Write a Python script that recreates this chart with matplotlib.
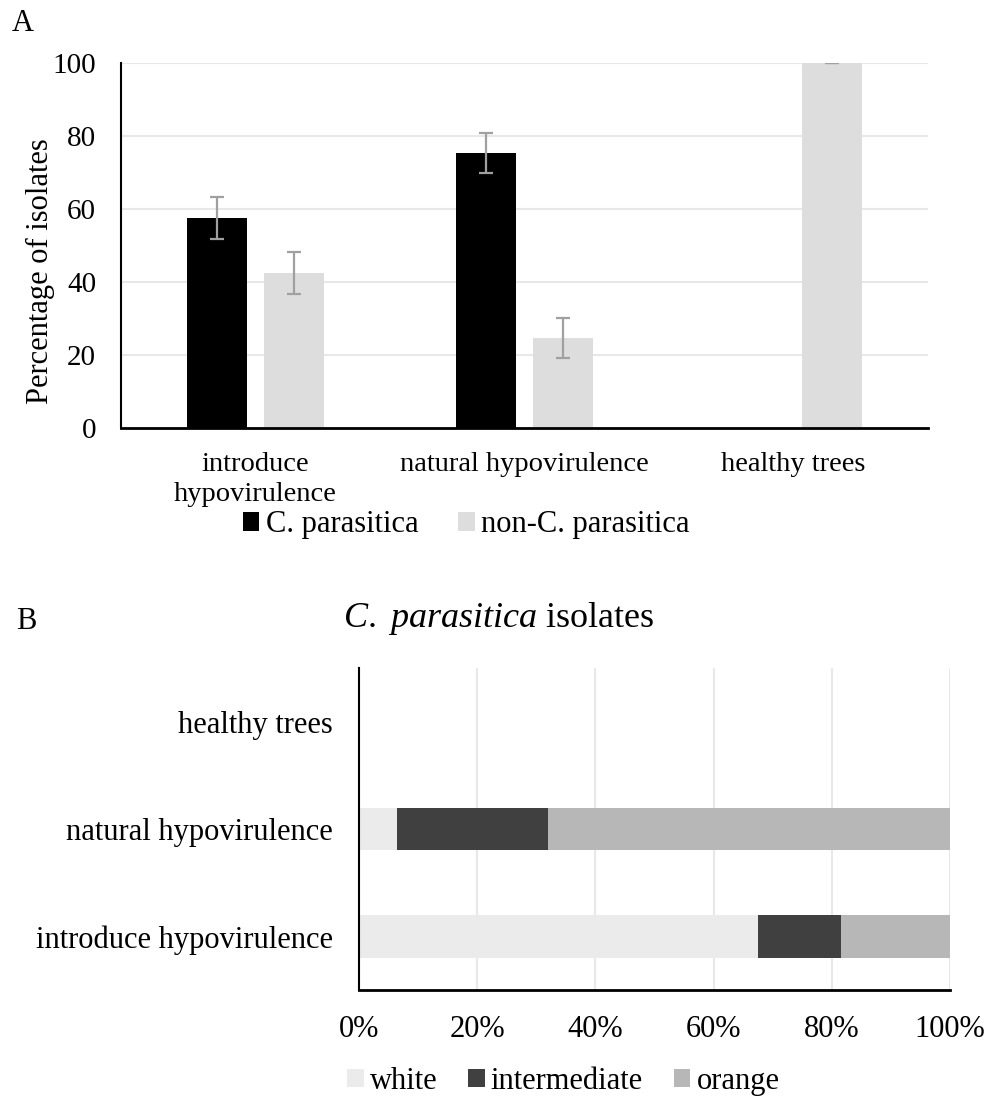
import matplotlib
matplotlib.use('Agg')
from matplotlib import pyplot as plt
import numpy as np

plt.rcParams['font.family'] = ['Liberation Serif', 'DejaVu Serif']
plt.rcParams['mathtext.fontset'] = 'custom'
plt.rcParams['mathtext.rm'] = 'Liberation Serif'
plt.rcParams['mathtext.it'] = 'Liberation Serif:italic'

# panel A data
groups_a = ['introduce\nhypovirulence', 'natural hypovirulence', 'healthy trees']
cpar = [57.5, 75.3, 0]
cpar_err = [5.7, 5.4, 0]
noncpar = [42.5, 24.7, 100]
noncpar_err = [5.8, 5.4, 0]

# panel B data (percent of C. parasitica isolates)
groups_b = ['introduce hypovirulence', 'natural hypovirulence', 'healthy trees']
white = [67.5, 6.5, 0]
intermediate = [14.0, 25.5, 0]
orange = [18.5, 68.0, 0]

fig = plt.figure(figsize=(10.02, 10.98), dpi=100)

# ---- panel A
ax1 = fig.add_axes([0.1208, 0.6102, 0.8053, 0.3324])
x = np.arange(len(groups_a))
w = 0.223
off = 0.143
ax1.bar(x - off, cpar, w, color='black', label='C. parasitica', zorder=2)
ax1.bar(x + off, noncpar, w, color='#dddddd', label='non-C. parasitica', zorder=2)
ax1.errorbar(x[:2] - off, cpar[:2], yerr=cpar_err[:2], fmt='none', ecolor='#a0a0a0',
             elinewidth=1.6, capsize=5, capthick=1.6, zorder=3)
ax1.errorbar(x + off, noncpar, yerr=noncpar_err, fmt='none', ecolor='#a0a0a0',
             elinewidth=1.6, capsize=5, capthick=1.6, zorder=3)
ax1.set_xlim(-0.5, 2.5)
ax1.set_ylim(0, 100)
ax1.set_yticks([0, 20, 40, 60, 80, 100])
ax1.set_xticks(x)
ax1.set_xticklabels(groups_a, fontsize=20.5, linespacing=1.3)
ax1.tick_params(axis='y', length=0, pad=18, labelsize=21)
ax1.tick_params(axis='x', length=0, pad=17)
ax1.grid(axis='y', color='#e8e8e8', linewidth=1.5, zorder=0)
ax1.set_axisbelow(True)
for s in ['top', 'right']:
    ax1.spines[s].set_visible(False)
ax1.spines['left'].set_linewidth(1.5)
ax1.spines['bottom'].set_linewidth(2)
ax1.set_ylabel('Percentage of isolates', fontsize=22)
ax1.yaxis.set_label_coords(-0.082, 0.43)
ax1.legend(loc='center', bbox_to_anchor=(0.465, 0.522), bbox_transform=fig.transFigure,
           ncol=2, frameon=False, fontsize=22, handlelength=0.55, handleheight=0.55,
           handletextpad=0.2, columnspacing=1.3)
fig.text(0.023, 0.979, 'A', fontsize=22, ha='center', va='center')

# ---- panel B
ax2 = fig.add_axes([0.3583, 0.0984, 0.5898, 0.2932])
y = np.arange(len(groups_b))
h = 0.4
left1 = np.array(white)
left2 = left1 + np.array(intermediate)
ax2.barh(y, white, h, color='#ebebeb', label='white', zorder=2)
ax2.barh(y, intermediate, h, left=left1, color='#404040', label='intermediate', zorder=2)
ax2.barh(y, orange, h, left=left2, color='#b7b7b7', label='orange', zorder=2)
ax2.set_xlim(0, 100)
ax2.set_ylim(-0.5, 2.5)
ax2.set_xticks([0, 20, 40, 60, 80, 100])
ax2.set_xticklabels(['0%', '20%', '40%', '60%', '80%', '100%'])
ax2.set_yticks(y)
ax2.set_yticklabels(groups_b)
ax2.tick_params(axis='x', length=0, pad=18, labelsize=22)
ax2.tick_params(axis='y', length=0, pad=19, labelsize=22)
ax2.grid(axis='x', color='#e8e8e8', linewidth=1.5, zorder=0)
ax2.set_axisbelow(True)
for s in ['top', 'right']:
    ax2.spines[s].set_visible(False)
ax2.spines['left'].set_linewidth(1.5)
ax2.spines['bottom'].set_linewidth(2)
ax2.legend(loc='center', bbox_to_anchor=(0.562, 0.015), bbox_transform=fig.transFigure,
           ncol=3, frameon=False, fontsize=22, handlelength=0.55, handleheight=0.55,
           handletextpad=0.2, columnspacing=1.0, borderpad=0.2)
fig.text(0.498, 0.437, r'$\it{C.\ parasitica}$ isolates', fontsize=26, ha='center', va='center')
fig.text(0.026, 0.434, 'B', fontsize=22, ha='center', va='center')

fig.savefig('out.png', dpi=100)
